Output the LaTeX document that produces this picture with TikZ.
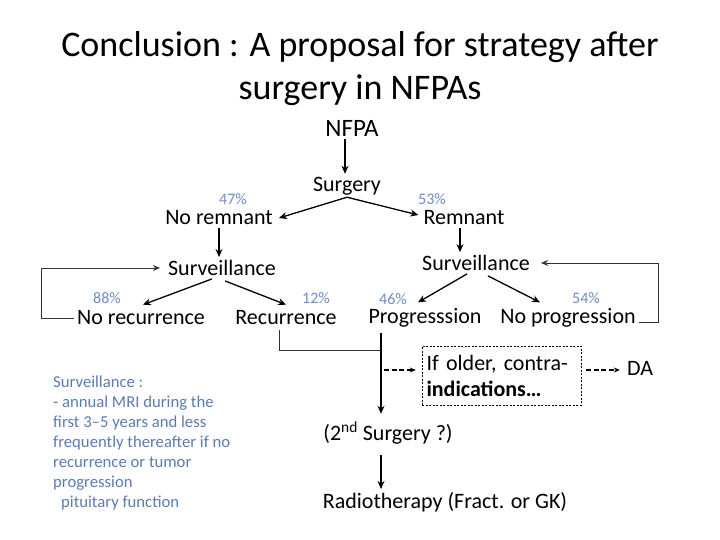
\documentclass[tikz,border=0pt]{standalone}
\usepackage{fontspec}
\setmainfont{Carlito}
\usetikzlibrary{arrows.meta}
\definecolor{pctblue}{HTML}{6F8DBF}
\definecolor{noteblue}{HTML}{5C7CB0}
\definecolor{linegray}{HTML}{333333}

\begin{document}
\begin{tikzpicture}[
    x=1pt, y=-1pt,
    flowtext/.style={inner sep=3pt, font=\fontsize{22}{25}\selectfont},
    pcttext/.style={inner sep=1pt, text=pctblue, font=\fontsize{16}{18}\selectfont},
    titletext/.style={align=center, font=\fontsize{36}{43}\selectfont},
    notetext/.style={align=left, anchor=north west, inner sep=0pt, text=noteblue,
      font=\fontsize{16.7}{20}\selectfont},
    olderbox/.style={draw, dash pattern=on 2pt off 1.5pt, thin, minimum width=159pt, minimum height=59pt,
      text width=150pt, align=left, inner sep=3pt, font=\fontsize{22}{26}\selectfont},
    arr/.style={-{Stealth[length=8pt,width=7pt]}, line width=1.3pt},
    dasharr/.style={-{Stealth[length=6pt,width=5pt]}, dash pattern=on 5pt off 2.5pt, line width=1.1pt},
    backline/.style={line width=1pt, draw=linegray}
  ]
    \useasboundingbox (0,0) rectangle (720,540);

    % title
    \node[titletext] (title) at (360,69) {Conclusion : A proposal for strategy after\\surgery in NFPAs};

    % tree
    \node[flowtext, font=\fontsize{25}{28}\selectfont] (nfpa) at (352,128) {NFPA};
    \node[flowtext] (surgery) at (347,186) {Surgery};
    \node[flowtext] (noremnant) at (219,218) {No remnant};
    \node[flowtext] (remnant) at (464,218) {Remnant};
    \node[flowtext] (survl) at (222,268) {Surveillance};
    \node[flowtext] (survr) at (476,263) {Surveillance};
    \node[flowtext] (norec) at (141,318) {No recurrence};
    \node[flowtext] (rec) at (286,318) {Recurrence};
    \node[flowtext] (prog) at (425,318) {Progresssion};
    \node[flowtext] (noprog) at (568,318) {No progression};
    \node[olderbox] (older) at (501.5,375.5) {If older, contra-\\\textbf{indications\dots}};
    \node[flowtext] (da) at (640,368) {DA};
    \node[flowtext] (second) at (388,433) {(2\textsuperscript{nd} Surgery ?)};
    \node[flowtext] (radio) at (445,502) {Radiotherapy (Fract. or GK)};

    % percentages
    \node[pcttext] (p47) at (233,199) {47\%};
    \node[pcttext] (p53) at (432,199) {53\%};
    \node[pcttext] (p88) at (107,298) {88\%};
    \node[pcttext] (p12) at (316,298) {12\%};
    \node[pcttext] (p46) at (393,299) {46\%};
    \node[pcttext] (p54) at (586,298) {54\%};

    % note
    \node[notetext] (note) at (53,376) {Surveillance :\\
      - annual MRI during the\\
      first 3--5 years and less\\
      frequently thereafter if no\\
      recurrence or tumor\\
      progression\\
      \hspace*{8pt}pituitary function};

    \coordinate (join) at (381,350);
    \coordinate (dashstart) at (384,370);

    % arrows
    \draw[arr] ([xshift=-7pt]nfpa.south) -- ([xshift=-7pt]nfpa.south |- surgery.north);
    \draw[arr] ([yshift=1pt]surgery.south) -- ([xshift=3pt]noremnant.east);
    \draw[arr] ([yshift=1pt]surgery.south) -- ([xshift=-2pt,yshift=3pt]remnant.west);
    \draw[arr] (noremnant.south) -- (noremnant.south |- survl.north);
    \draw[arr] ([xshift=-4pt]remnant.south) -- ([xshift=-4pt]remnant.south |- survr.north);
    \draw[arr] ([xshift=-10pt]survl.south) -- ([xshift=2pt,yshift=3pt]norec.north);
    \draw[arr] ([xshift=3pt,yshift=-2pt]survl.south) -- ([yshift=3pt]rec.north);
    \draw[arr] ([xshift=-9pt]survr.south) -- ([xshift=-7pt,yshift=3pt]prog.north);
    \draw[arr] ([xshift=12pt,yshift=-2pt]survr.south) -- ([xshift=-28pt,yshift=3pt]noprog.north);

    % loops back to surveillance
    \draw[backline, -{Stealth[length=7pt,width=6pt]}, shorten >=5pt]
      (norec.west) -- ++(-32,0) |- (survl.west);
    \draw[backline, -{Stealth[length=7pt,width=6pt]}, shorten >=8pt]
      ([yshift=-4pt]noprog.east) -- ++(20,0) |- (survr.east);

    % further treatment
    \draw[backline] ([xshift=-7pt,yshift=-2pt]rec.south) |- (join);
    \draw[arr] ([xshift=-44pt,yshift=-2pt]prog.south) -- ([xshift=-44pt,yshift=5pt]prog.south |- second.north);
    \draw[dasharr, shorten >=6pt] (dashstart) -- (dashstart -| older.west);
    \draw[dasharr, shorten <=5pt, shorten >=4pt] (dashstart -| older.east) -- (dashstart -| da.west);
    \draw[arr, shorten <=8pt] (join |- second.south) -- (join |- radio.north);
  \end{tikzpicture}
\end{document}
